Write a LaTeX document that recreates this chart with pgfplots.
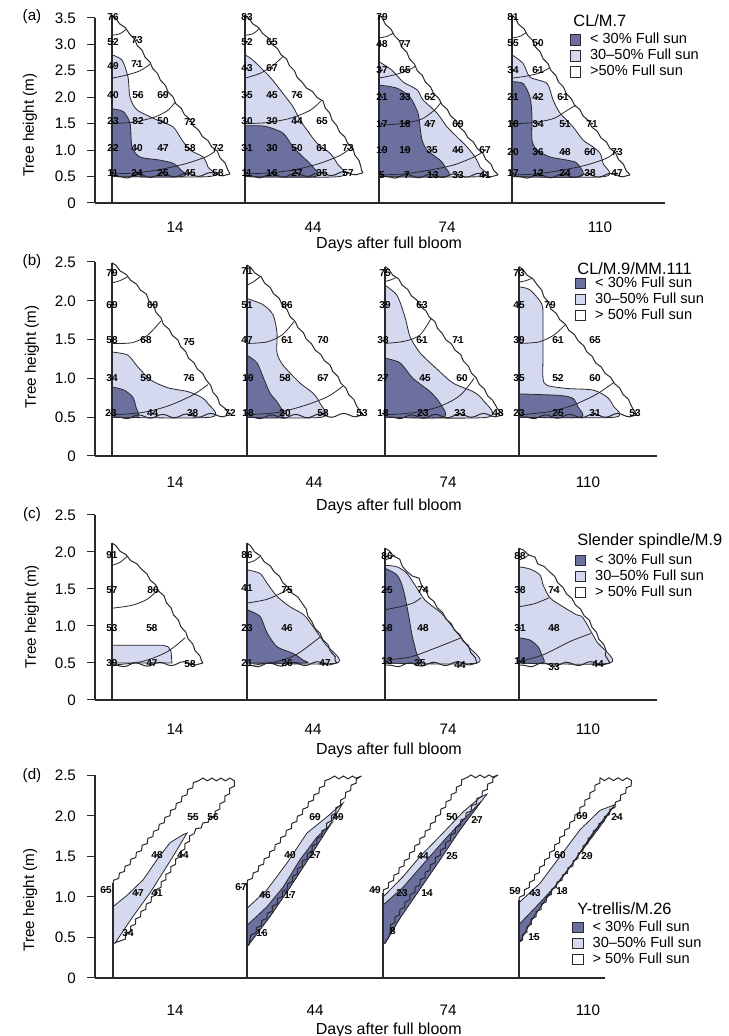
\documentclass[border=0pt]{standalone}
\usepackage{fontspec}
\setmainfont{Liberation Sans}
\usepackage{pgfplots}
\pgfplotsset{compat=1.18}
\usetikzlibrary{decorations.pathmorphing}
\definecolor{darkc}{RGB}{108,112,158}
\definecolor{lightc}{RGB}{213,217,239}
\definecolor{lc}{RGB}{40,40,45}
\newcommand\nf{\fontsize{5}{5.5}\selectfont\bfseries}
\newcommand\tf{\fontsize{7.6}{8.5}\selectfont}
\newcommand\ttl{\fontsize{8.2}{9}\selectfont}
\pgfplotsset{
  sh/.style={x filter/.expression={x+#1}},
  wt/.style={fill=white, draw=none},
  lt/.style={fill=lightc, draw=lc, line width=0.4pt, smooth, tension=0.45},
  dk/.style={fill=darkc, draw=lc, line width=0.4pt, smooth, tension=0.45},
  ltp/.style={fill=lightc, draw=lc, line width=0.4pt},
  dkp/.style={fill=darkc, draw=lc, line width=0.4pt},
  ct/.style={draw=lc, line width=0.4pt, smooth, tension=0.5},
  vl/.style={draw=lc, line width=0.55pt},
  hy/.style={draw=lc, line width=0.5pt, decorate, decoration={snake, amplitude=0.35pt, segment length=7pt}},
  bt/.style={draw=lc, line width=0.5pt, decorate, decoration={snake, amplitude=0.9pt, segment length=12pt}},
  zz/.style={draw=lc, line width=0.5pt, decorate, decoration={snake, amplitude=0.7pt, segment length=4.5pt}},
  nm/.style={only marks, mark=*, mark size=0.2pt, mark options={draw=none, fill=none}, nodes near coords, point meta=explicit symbolic, nodes near coords align={center}, every node near coord/.append style={font=\nf, inner sep=0pt, text=black}},
  panel/.style={anchor=south west, x=0.5pt, xmin=0, ymin=0, enlargelimits=false, clip=false,
    axis x line*=bottom, axis y line*=left, axis line style={draw=lc, line width=0.6pt},
    tick align=outside, major tick length=4pt,
    x tick style={draw=none}, y tick style={draw=lc, line width=0.5pt},
    tick label style={font=\tf}, /pgf/number format/assume math mode=true,
    yticklabel style={xshift=-2pt},
    xticklabels={14,44,74,110},
    xlabel={Days after full bloom}, ylabel={Tree height (m)},
    xlabel style={font=\fontsize{8}{9}\selectfont, anchor=center},
    ylabel style={font=\tf, anchor=center},
    legend cell align=left,
    legend style={draw=none, fill=none, anchor=north west, inner sep=0pt, column sep=4pt, font=\fontsize{7.3}{8}\selectfont, row sep=0pt, nodes={inner sep=0.6pt}},
    legend image code/.code={\draw[##1] (0pt,-2.6pt) rectangle (5.2pt,2.6pt);},
  },
}
\begin{document}
\begin{tikzpicture}
\useasboundingbox (0,0) rectangle (364pt,518pt);
% ================= (a) =================
\begin{axis}[panel, at={(47.5pt,416.5pt)}, y=26.45pt, xmax=570, ymax=3.5,
  xtick={80,218,352,505}, ytick={0,0.5,1,1.5,2,2.5,3,3.5},
  yticklabels={0,0.5,1.0,1.5,2.0,2.5,3.0,3.5},
  xticklabel style={yshift=-2pt},
  xlabel style={at={(axis description cs:0.516,0)}, yshift=-20.5pt},
  ylabel style={at={(axis description cs:-0.114,0.42)}},
  legend style={at={(0.832,0.926)}}]
\addlegendimage{fill=darkc, draw=lc, line width=0.4pt}\addlegendentry{< 30\% Full sun}
\addlegendimage{fill=lightc, draw=lc, line width=0.4pt}\addlegendentry{30--50\% Full sun}
\addlegendimage{fill=white, draw=lc, line width=0.4pt}\addlegendentry{>50\% Full sun}
% a14
\addplot[wt,sh=17] coordinates {(0,3.55)(14.7,3.27)(38,2.61)(61,1.95)(85,1.38)(101,1.04)(118,0.55)(0,0.5)} -- cycle;
\addplot[lt,sh=17] coordinates {(0,2.80)(10,2.70)(16,2.38)(18,2.0)(25,1.76)(45,1.57)(61,1.44)(70,1.19)(78,1.0)(91,0.87)(96,0.68)(98,0.5)(0,0.5)} -- cycle;
\addplot[dk,sh=17] coordinates {(0,1.78)(11,1.73)(18,1.51)(20,1.06)(28,0.87)(48,0.81)(61,0.75)(68,0.64)(70,0.5)(0,0.5)} -- cycle;
\addplot[ct,sh=17] coordinates {(0,3.17)(8,3.2)(14,3.28)};
\addplot[ct,sh=17] coordinates {(0,2.36)(15,2.42)(28,2.5)(38,2.62)};
\addplot[ct,sh=17] coordinates {(0,1.5)(22,1.53)(42,1.62)(55,1.74)(63,1.9)};
\addplot[ct,sh=17] coordinates {(0,0.55)(25,0.57)(50,0.64)(75,0.75)(95,0.88)(103,0.98)};
\addplot[vl,sh=17] coordinates {(0,0)(0,3.55)};
\addplot[hy,sh=17] coordinates {(0,3.55)(14.7,3.27)(38,2.61)(61,1.95)(85,1.38)(101,1.04)(118,0.55)};
\addplot[bt,sh=17] coordinates {(118,0.55)(0,0.5)};
\addplot[nm,sh=17] coordinates {(1,3.52)[76](1,3.05)[52](25,3.08)[73](1,2.58)[49](25,2.62)[71](1,2.04)[40](26,2.04)[56](51,2.04)[69](1,1.54)[23](26,1.54)[82](51,1.54)[50](78,1.54)[72](1,1.03)[22](25,1.03)[40](51,1.03)[47](78,1.03)[58](106,1.03)[72](1,0.57)[11](25,0.57)[24](51,0.57)[25](78,0.57)[45](106,0.57)[58]};
% a44
\addplot[wt,sh=150] coordinates {(0,3.55)(15,3.27)(38,2.77)(55,2.29)(75,1.95)(88,1.51)(105,1.06)(118,0.57)(0,0.5)} -- cycle;
\addplot[lt,sh=150] coordinates {(0,2.80)(8,2.70)(25,2.38)(38,2.07)(48,1.82)(55,1.57)(62,1.38)(72,1.13)(85,0.94)(92,0.75)(95,0.5)(0,0.5)} -- cycle;
\addplot[dk,sh=150] coordinates {(0,1.46)(20,1.45)(38,1.32)(48,1.06)(58,0.87)(68,0.68)(70,0.5)(0,0.5)} -- cycle;
\addplot[ct,sh=150] coordinates {(0,3.17)(8,3.2)(14,3.29)};
\addplot[ct,sh=150] coordinates {(0,2.36)(15,2.45)(28,2.6)(38,2.77)};
\addplot[ct,sh=150] coordinates {(0,1.5)(22,1.52)(45,1.6)(65,1.75)(76,1.93)};
\addplot[ct,sh=150] coordinates {(0,0.55)(25,0.57)(50,0.63)(75,0.75)(95,0.9)(106,1.04)};
\addplot[vl,sh=150] coordinates {(0,0)(0,3.55)};
\addplot[hy,sh=150] coordinates {(0,3.55)(15,3.27)(38,2.77)(55,2.29)(75,1.95)(88,1.51)(105,1.06)(118,0.57)};
\addplot[bt,sh=150] coordinates {(118,0.57)(0,0.5)};
\addplot[nm,sh=150] coordinates {(2,3.52)[83](2,3.05)[52](27,3.05)[65](2,2.55)[43](27,2.55)[67](2,2.04)[35](27,2.04)[45](52,2.04)[76](2,1.54)[30](27,1.54)[30](52,1.54)[44](77,1.54)[65](2,1.03)[31](27,1.03)[30](52,1.03)[50](77,1.03)[61](103,1.03)[73](2,0.57)[11](27,0.57)[16](52,0.57)[27](77,0.57)[35](103,0.57)[57]};
% a74
\addplot[wt,sh=284] coordinates {(0,3.55)(14.3,3.21)(36,2.58)(57.7,2.01)(81,1.44)(101,1.0)(119,0.53)(0,0.5)} -- cycle;
\addplot[lt,sh=284] coordinates {(0,2.67)(13,2.51)(24,2.29)(38,2.14)(44,1.95)(58,1.70)(68,1.44)(78,1.25)(88,1.06)(96,0.87)(101,0.68)(103,0.5)(0,0.5)} -- cycle;
\addplot[dk,sh=284] coordinates {(0,2.23)(18,2.17)(31,2.0)(39,1.70)(41,1.44)(43,1.19)(48,1.0)(61,0.81)(66,0.68)(67,0.5)(0,0.5)} -- cycle;
\addplot[ct,sh=284] coordinates {(0,3.12)(8,3.15)(14,3.21)};
\addplot[ct,sh=284] coordinates {(0,2.36)(15,2.42)(28,2.5)(36,2.58)};
\addplot[ct,sh=284] coordinates {(0,1.47)(22,1.5)(42,1.58)(55,1.75)(62,1.9)};
\addplot[ct,sh=284] coordinates {(0,0.53)(25,0.55)(50,0.62)(75,0.72)(95,0.87)(103,0.96)};
\addplot[vl,sh=284] coordinates {(0,0)(0,3.55)};
\addplot[hy,sh=284] coordinates {(0,3.55)(14.3,3.21)(36,2.58)(57.7,2.01)(81,1.44)(101,1.0)(119,0.53)};
\addplot[bt,sh=284] coordinates {(119,0.53)(0,0.5)};
\addplot[nm,sh=284] coordinates {(3,3.52)[79](3,3.0)[48](26,3.0)[77](3,2.51)[37](26,2.51)[65](3,2.0)[21](26,2.0)[33](51,2.0)[62](3,1.5)[17](26,1.5)[18](51,1.5)[47](79,1.5)[69](3,1.0)[19](26,1.0)[19](53,1.0)[35](79,1.0)[46](106,1.0)[67](3,0.53)[5](28,0.53)[7](54,0.53)[13](79,0.53)[33](106,0.53)[41]};
% a110
\addplot[wt,sh=417] coordinates {(0,3.55)(14.7,3.21)(34.7,2.64)(54.7,2.07)(78,1.51)(101,1.0)(118,0.53)(0,0.5)} -- cycle;
\addplot[lt,sh=417] coordinates {(0,2.80)(11,2.64)(18,2.38)(35,2.26)(41,1.95)(48,1.70)(61,1.44)(71,1.19)(81,1.06)(88,0.94)(91,0.75)(93,0.5)(0,0.5)} -- cycle;
\addplot[dk,sh=417] coordinates {(0,2.29)(11,2.26)(18,2.0)(20,1.63)(20,1.19)(25,1.0)(38,0.87)(55,0.81)(65,0.75)(68,0.5)(0,0.5)} -- cycle;
\addplot[ct,sh=417] coordinates {(0,3.12)(8,3.15)(14,3.22)};
\addplot[ct,sh=417] coordinates {(0,2.36)(15,2.4)(28,2.46)(38,2.56)};
\addplot[ct,sh=417] coordinates {(0,1.5)(22,1.52)(42,1.6)(55,1.75)(64,1.85)};
\addplot[ct,sh=417] coordinates {(0,0.53)(25,0.55)(50,0.62)(75,0.72)(95,0.85)(103,0.96)};
\addplot[vl,sh=417] coordinates {(0,0)(0,3.55)};
\addplot[hy,sh=417] coordinates {(0,3.55)(14.7,3.21)(34.7,2.64)(54.7,2.07)(78,1.51)(101,1.0)(118,0.53)};
\addplot[bt,sh=417] coordinates {(118,0.53)(0,0.5)};
\addplot[nm,sh=417] coordinates {(1,3.52)[81](1,3.02)[55](26,3.02)[50](1,2.51)[34](26,2.51)[61](1,2.0)[21](26,2.0)[42](51,2.0)[61](1,1.5)[18](26,1.5)[34](53,1.5)[51](80,1.5)[71](1,0.97)[20](26,0.97)[36](53,0.97)[48](78,0.97)[60](105,0.97)[73](1,0.56)[17](26,0.56)[12](53,0.56)[24](78,0.56)[38](105,0.56)[47]};
\node[anchor=west, inner sep=0pt, font=\ttl] at (axis cs:478,3.45) {CL/M.7};
\node[font=\tf] at (axis cs:-63,3.52) {(a)};
\end{axis}
% ================= (b) =================
\begin{axis}[panel, at={(47.5pt,290pt)}, y=38.8pt, xmax=562, ymax=2.5,
  xtick={80,219,353,493}, ytick={0,0.5,1,1.5,2,2.5},
  yticklabels={0,0.5,1.0,1.5,2.0,2.5},
  xticklabel style={yshift=-3pt},
  xlabel style={at={(axis description cs:0.523,0)}, yshift=-25pt},
  ylabel style={at={(axis description cs:-0.112,0.51)}},
  legend style={at={(0.853,0.933)}}]
\addlegendimage{fill=darkc, draw=lc, line width=0.4pt}\addlegendentry{< 30\% Full sun}
\addlegendimage{fill=lightc, draw=lc, line width=0.4pt}\addlegendentry{30--50\% Full sun}
\addlegendimage{fill=white, draw=lc, line width=0.4pt}\addlegendentry{> 50\% Full sun}
% b14
\addplot[wt,sh=17] coordinates {(0,2.49)(15.7,2.31)(32,2.10)(48.7,1.75)(62,1.54)(75.7,1.28)(92,1.02)(105,0.72)(118,0.53)(0,0.5)} -- cycle;
\addplot[lt,sh=17] coordinates {(0,1.34)(15.7,1.30)(25.7,1.15)(38.7,0.98)(55.7,0.88)(75.7,0.83)(89,0.76)(95.7,0.68)(99,0.5)(0,0.5)} -- cycle;
\addplot[dk,sh=17] coordinates {(0,0.89)(12,0.85)(20.7,0.76)(24,0.63)(25.7,0.5)(0,0.5)} -- cycle;
\addplot[ct,sh=17] coordinates {(0,2.23)(8,2.26)(15.7,2.31)};
\addplot[ct,sh=17] coordinates {(0,1.45)(20,1.46)(35,1.55)(49,1.74)};
\addplot[ct,sh=17] coordinates {(0,0.53)(30,0.56)(55,0.64)(80,0.78)(96,0.92)};
\addplot[vl,sh=17] coordinates {(0,0)(0,2.49)};
\addplot[hy,sh=17] coordinates {(0,2.49)(15.7,2.31)(32,2.10)(48.7,1.75)(62,1.54)(75.7,1.28)(92,1.02)(105,0.72)(118,0.53)};
\addplot[bt,sh=17] coordinates {(118,0.53)(0,0.5)};
\addplot[nm,sh=17] coordinates {(0,2.36)[79](0,1.95)[69](40.7,1.95)[69](0,1.49)[58](34,1.49)[68](77,1.47)[75](0,1.0)[34](34,1.0)[59](77,1.0)[76](-1,0.55)[23](40.7,0.55)[44](80.7,0.55)[38](118,0.55)[72]};
% b44
\addplot[wt,sh=152] coordinates {(0,2.46)(13,2.31)(30,2.05)(46,1.75)(63,1.45)(80,1.20)(96,0.90)(110,0.64)(116,0.53)(0,0.5)} -- cycle;
\addplot[lt,sh=152] coordinates {(0,2.03)(16,1.95)(26,1.82)(30,1.59)(30,1.33)(36,1.17)(53,0.94)(66,0.81)(73,0.68)(75,0.5)(0,0.5)} -- cycle;
\addplot[dk,sh=152] coordinates {(0,1.30)(10,1.20)(16,1.02)(23,0.81)(31,0.68)(36,0.5)(0,0.5)} -- cycle;
\addplot[ct,sh=152] coordinates {(0,2.2)(7,2.25)(13,2.31)};
\addplot[ct,sh=152] coordinates {(0,1.45)(20,1.47)(35,1.56)(47,1.73)};
\addplot[ct,sh=152] coordinates {(0,0.53)(30,0.56)(55,0.64)(80,0.76)(96,0.9)};
\addplot[vl,sh=152] coordinates {(0,0)(0,2.46)};
\addplot[hy,sh=152] coordinates {(0,2.46)(13,2.31)(30,2.05)(46,1.75)(63,1.45)(80,1.20)(96,0.90)(110,0.64)(116,0.53)};
\addplot[bt,sh=152] coordinates {(116,0.53)(0,0.5)};
\addplot[nm,sh=152] coordinates {(0,2.38)[71](0,1.95)[51](40,1.95)[86](0,1.49)[47](40,1.49)[61](76,1.49)[70](1,1.0)[19](38,1.0)[58](76,1.0)[67](1,0.55)[18](38,0.55)[20](76,0.55)[58](115,0.55)[53]};
% b74
\addplot[wt,sh=290] coordinates {(0,2.44)(12,2.29)(28,2.05)(45,1.79)(55,1.58)(72,1.33)(88,1.02)(105,0.72)(118,0.53)(0,0.5)} -- cycle;
\addplot[lt,sh=290] coordinates {(0,2.20)(12,2.07)(20,1.79)(25,1.54)(35,1.33)(52,1.12)(68,0.94)(88,0.83)(98,0.72)(103,0.5)(0,0.5)} -- cycle;
\addplot[dk,sh=290] coordinates {(0,1.26)(15,1.20)(28,1.0)(45,0.83)(55,0.68)(58,0.5)(0,0.5)} -- cycle;
\addplot[ct,sh=290] coordinates {(0,2.25)(6,2.27)(11,2.3)};
\addplot[ct,sh=290] coordinates {(0,1.45)(20,1.48)(35,1.56)(46,1.77)};
\addplot[ct,sh=290] coordinates {(0,0.53)(30,0.56)(55,0.64)(75,0.78)(89,1.0)};
\addplot[vl,sh=290] coordinates {(0,0)(0,2.44)};
\addplot[hy,sh=290] coordinates {(0,2.44)(12,2.29)(28,2.05)(45,1.79)(55,1.58)(72,1.33)(88,1.02)(105,0.72)(118,0.53)};
\addplot[bt,sh=290] coordinates {(118,0.53)(0,0.5)};
\addplot[nm,sh=290] coordinates {(0,2.36)[75](0,1.95)[39](37,1.95)[63](-2,1.49)[38](37,1.49)[61](73,1.49)[71](-2,1.0)[27](40,1.0)[45](77,1.0)[60](-2,0.55)[18](38,0.55)[23](75,0.55)[33](113,0.55)[48]};
% b110
\addplot[wt,sh=424] coordinates {(0,2.44)(14,2.27)(28,1.95)(41,1.75)(58,1.50)(74,1.24)(91,1.0)(108,0.72)(118,0.53)(0,0.5)} -- cycle;
\addplot[lt,sh=424] coordinates {(0,2.18)(11,2.14)(23,1.95)(24,1.71)(24,1.29)(24,1.0)(28,0.91)(48,0.87)(74,0.85)(88,0.76)(94,0.65)(96,0.5)(0,0.5)} -- cycle;
\addplot[dk,sh=424] coordinates {(0,0.80)(41,0.78)(54,0.74)(59,0.63)(61,0.5)(0,0.5)} -- cycle;
\addplot[ct,sh=424] coordinates {(0,2.24)(7,2.26)(13,2.29)};
\addplot[ct,sh=424] coordinates {(0,1.45)(20,1.47)(35,1.56)(46,1.69)};
\addplot[ct,sh=424] coordinates {(0,0.53)(30,0.57)(55,0.66)(78,0.8)(95,0.95)};
\addplot[vl,sh=424] coordinates {(0,0)(0,2.44)};
\addplot[hy,sh=424] coordinates {(0,2.44)(14,2.27)(28,1.95)(41,1.75)(58,1.50)(74,1.24)(91,1.0)(108,0.72)(118,0.53)};
\addplot[bt,sh=424] coordinates {(118,0.53)(0,0.5)};
\addplot[nm,sh=424] coordinates {(0,2.36)[73](0,1.95)[45](31,1.95)[79](0,1.49)[39](39,1.49)[61](76,1.49)[65](0,1.0)[35](39,1.0)[52](76,1.0)[60](0,0.55)[23](39,0.55)[25](76,0.55)[31](116,0.55)[53]};
\node[anchor=west, inner sep=0pt, font=\ttl] at (axis cs:482,2.42) {CL/M.9/MM.111};
\node[font=\tf] at (axis cs:-63,2.5) {(b)};
\end{axis}
% ================= (c) =================
\begin{axis}[panel, at={(47.5pt,168pt)}, y=37pt, xmax=562, ymax=2.5,
  xtick={80,218,353,493}, ytick={0,0.5,1,1.5,2,2.5},
  yticklabels={0,0.5,1.0,1.5,2.0,2.5},
  xticklabel style={yshift=-4.5pt},
  xlabel style={at={(axis description cs:0.523,0)}, yshift=-25pt},
  ylabel style={at={(axis description cs:-0.112,0.45)}},
  legend style={at={(0.853,0.80)}}]
\addlegendimage{fill=darkc, draw=lc, line width=0.4pt}\addlegendentry{< 30\% Full sun}
\addlegendimage{fill=lightc, draw=lc, line width=0.4pt}\addlegendentry{30--50\% Full sun}
\addlegendimage{fill=white, draw=lc, line width=0.4pt}\addlegendentry{> 50\% Full sun}
% c14
\addplot[wt,sh=17] coordinates {(0,2.12)(15,1.94)(28,1.80)(41,1.58)(51,1.40)(61,1.17)(71,0.95)(81,0.72)(91,0.50)(0,0.5)} -- cycle;
\addplot[ltp,sh=17] coordinates {(0,0.74)(51,0.74)(56,0.72)(59,0.66)(60,0.5)(0,0.5)} -- cycle;
\addplot[ct,sh=17] coordinates {(0,1.82)(8,1.86)(15,1.94)};
\addplot[ct,sh=17] coordinates {(0,1.24)(20,1.28)(35,1.36)(46,1.49)};
\addplot[ct,sh=17] coordinates {(0,0.47)(30,0.52)(55,0.65)(73,0.84)};
\addplot[vl,sh=17] coordinates {(0,0)(0,2.12)};
\addplot[hy,sh=17] coordinates {(0,2.12)(15,1.94)(28,1.80)(41,1.58)(51,1.40)(61,1.17)(71,0.95)(81,0.72)(91,0.50)};
\addplot[bt,sh=17] coordinates {(91,0.5)(0,0.47)};
\addplot[nm,sh=17] coordinates {(0,1.96)[91](0,1.49)[57](41,1.49)[86](0,0.97)[53](40,0.97)[58](0,0.5)[39](40,0.5)[47](78,0.48)[58]};
% c44
\addplot[wt,sh=152] coordinates {(0,2.12)(13,1.94)(26.3,1.76)(39.7,1.53)(53,1.35)(63,1.05)(78,0.76)(89.7,0.50)(0,0.5)} -- cycle;
\addplot[lt,sh=152] coordinates {(0,1.76)(13,1.71)(20,1.58)(30,1.40)(43,1.26)(56,1.16)(63,1.05)(78,0.76)(89.7,0.5)(0,0.5)} -- cycle;
\addplot[dk,sh=152] coordinates {(0,1.22)(13,1.13)(20,0.91)(30,0.72)(46,0.63)(56,0.54)(58,0.5)(0,0.5)} -- cycle;
\addplot[ct,sh=152] coordinates {(0,1.85)(7,1.88)(13,1.94)};
\addplot[ct,sh=152] coordinates {(0,1.31)(20,1.36)(35,1.45)(42,1.5)};
\addplot[ct,sh=152] coordinates {(0,0.46)(30,0.52)(50,0.62)(73,0.85)};
\addplot[vl,sh=152] coordinates {(0,0)(0,2.12)};
\addplot[hy,sh=152] coordinates {(0,2.12)(13,1.94)(26.3,1.76)(39.7,1.53)(53,1.35)(63,1.05)(78,0.76)(89.7,0.50)};
\addplot[bt,sh=152] coordinates {(89.7,0.5)(0,0.47)};
\addplot[nm,sh=152] coordinates {(0,1.96)[86](0,1.51)[41](40,1.49)[75](0,0.97)[23](40,0.97)[46](0,0.5)[21](40,0.5)[26](78,0.5)[47]};
% c74
\addplot[wt,sh=290] coordinates {(0,2.05)(12,1.92)(18,1.78)(30,1.69)(40,1.46)(52,1.26)(72,0.91)(82,0.74)(92,0.5)(0,0.5)} -- cycle;
\addplot[lt,sh=290] coordinates {(0,1.82)(12,1.80)(22,1.71)(32,1.51)(40,1.35)(52,1.22)(58,1.15)(72,0.91)(82,0.74)(92,0.5)(0,0.5)} -- cycle;
\addplot[dk,sh=290] coordinates {(0,1.78)(12,1.69)(18,1.51)(23,1.19)(27,0.88)(32,0.61)(35,0.5)(0,0.5)} -- cycle;
\addplot[ct,sh=290] coordinates {(0,1.89)(5,1.92)(10,1.96)};
\addplot[ct,sh=290] coordinates {(0,1.22)(15,1.26)(28,1.31)(36,1.38)};
\addplot[ct,sh=290] coordinates {(0,0.54)(25,0.58)(50,0.7)(76,0.84)};
\addplot[vl,sh=290] coordinates {(0,0)(0,2.05)};
\addplot[hy,sh=290] coordinates {(0,2.05)(12,1.92)(18,1.78)(30,1.69)(40,1.46)(52,1.26)(72,0.91)(82,0.74)(92,0.5)};
\addplot[bt,sh=290] coordinates {(92,0.5)(0,0.47)};
\addplot[nm,sh=290] coordinates {(2,1.94)[86](2,1.49)[25](38,1.49)[74](2,0.97)[18](38,0.97)[48](2,0.52)[13](35,0.5)[35](75,0.47)[44]};
% c110
\addplot[wt,sh=424] coordinates {(0,2.05)(11,1.96)(17.7,1.82)(27.7,1.73)(37.7,1.55)(51,1.33)(64,1.11)(77.7,0.79)(91,0.5)(0,0.5)} -- cycle;
\addplot[lt,sh=424] coordinates {(0,1.80)(11,1.77)(21,1.69)(24.3,1.55)(31,1.38)(44,1.26)(57.7,1.15)(64,1.11)(77.7,0.79)(91,0.5)(0,0.5)} -- cycle;
\addplot[dk,sh=424] coordinates {(0,0.84)(11,0.81)(19,0.72)(22.7,0.61)(24.3,0.5)(0,0.5)} -- cycle;
\addplot[ct,sh=424] coordinates {(0,1.89)(5,1.92)(10,1.96)};
\addplot[ct,sh=424] coordinates {(0,1.26)(15,1.3)(30,1.38)};
\addplot[ct,sh=424] coordinates {(0,0.52)(24,0.61)(51,0.79)(72,0.9)};
\addplot[vl,sh=424] coordinates {(0,0)(0,2.05)};
\addplot[hy,sh=424] coordinates {(0,2.05)(11,1.96)(17.7,1.82)(27.7,1.73)(37.7,1.55)(51,1.33)(64,1.11)(77.7,0.79)(91,0.5)};
\addplot[bt,sh=424] coordinates {(91,0.5)(0,0.47)};
\addplot[nm,sh=424] coordinates {(1,1.94)[88](1,1.49)[38](35,1.49)[74](1,0.97)[31](35,0.97)[48](1,0.52)[14](35,0.45)[33](79,0.48)[44]};
\node[anchor=west, inner sep=0pt, font=\ttl] at (axis cs:482,2.15) {Slender spindle/M.9};
\node[font=\tf] at (axis cs:-63,2.5) {(c)};
\end{axis}
% ================= (d) =================
\begin{axis}[panel, at={(47.5pt,29pt)}, y=40.5pt, xmax=510, ymax=2.5,
  xtick={80,220,353,493}, ytick={0,0.5,1,1.5,2,2.5},
  yticklabels={0,0.5,1.0,1.5,2.0,2.5},
  xticklabel style={yshift=-6pt},
  xlabel style={at={(axis description cs:0.576,0)}, yshift=-26pt},
  ylabel style={at={(axis description cs:-0.127,0.385)}},
  legend style={at={(0.935,0.29)}}]
\addlegendimage{fill=darkc, draw=lc, line width=0.4pt}\addlegendentry{< 30\% Full sun}
\addlegendimage{fill=lightc, draw=lc, line width=0.4pt}\addlegendentry{30--50\% Full sun}
\addlegendimage{fill=white, draw=lc, line width=0.4pt}\addlegendentry{> 50\% Full sun}
% d14
\addplot[wt,sh=18] coordinates {(0,0.43)(0,1.17)(84,2.44)(117,2.44)(94,1.99)(74,1.79)(60,1.50)(37,1.05)(20,0.76)(2,0.43)} -- cycle;
\addplot[ltp,sh=18] coordinates {(0,0.88)(14,1.02)(30,1.21)(44,1.46)(57,1.67)(70,1.77)(74,1.79)(60,1.50)(37,1.05)(20,0.76)(2,0.43)(0,0.43)} -- cycle;
\addplot[vl,sh=18] coordinates {(0,0)(0,1.17)};
\addplot[zz,sh=18] coordinates {(0,1.17)(84,2.44)(117,2.44)(94,1.99)(74,1.79)(60,1.50)(37,1.05)(20,0.76)(2,0.43)};
\addplot[nm,sh=18] coordinates {(-7,1.09)[65](25,1.05)[47](44,1.05)[41](15,0.56)[34](44,1.52)[48](70,1.52)[44](80,1.99)[55](100,1.99)[56]};
% d44
\addplot[wt,sh=152] coordinates {(0,0.40)(0,1.17)(80,2.44)(113,2.44)(96,2.16)(80,1.83)(63,1.5)(43,1.12)(23,0.76)(1,0.40)} -- cycle;
\addplot[ltp,sh=152] coordinates {(0,0.86)(20,1.09)(40,1.42)(60,1.79)(80,1.99)(96,2.16)(80,1.83)(63,1.5)(43,1.12)(23,0.76)(1,0.40)(0,0.40)} -- cycle;
\addplot[dkp,sh=152] coordinates {(0,0.65)(20,0.88)(36,1.12)(53,1.46)(70,1.74)(84,1.9)(80,1.83)(63,1.5)(43,1.12)(23,0.76)(1,0.40)(0,0.40)} -- cycle;
\addplot[vl,sh=152] coordinates {(0,0)(0,1.17)};
\addplot[zz,sh=152] coordinates {(0,1.17)(80,2.44)(113,2.44)(96,2.16)(80,1.83)(63,1.5)(43,1.12)(23,0.76)(1,0.40)};
\addplot[nm,sh=152] coordinates {(-6,1.12)[67](18,1.03)[46](43,1.03)[17](15,0.56)[16](43,1.52)[40](68,1.52)[27](68,1.99)[69](91,1.99)[49]};
% d74
\addplot[wt,sh=288] coordinates {(0,0.43)(0,1.05)(80,2.44)(114,2.44)(94,2.11)(77,1.83)(57,1.46)(37,1.10)(17,0.74)(2,0.43)} -- cycle;
\addplot[ltp,sh=288] coordinates {(0,1.0)(20,1.25)(37,1.5)(60,1.79)(80,2.05)(97,2.23)(104,2.27)(94,2.11)(77,1.83)(57,1.46)(37,1.10)(17,0.74)(2,0.43)(0,0.43)} -- cycle;
\addplot[dkp,sh=288] coordinates {(0,0.90)(20,1.12)(44,1.46)(64,1.74)(84,2.0)(98,2.18)(94,2.11)(77,1.83)(57,1.46)(37,1.10)(17,0.74)(2,0.43)(0,0.43)} -- cycle;
\addplot[vl,sh=288] coordinates {(0,0)(0,1.05)};
\addplot[zz,sh=288] coordinates {(0,1.05)(80,2.44)(114,2.44)(94,2.11)(77,1.83)(57,1.46)(37,1.10)(17,0.74)(2,0.43)};
\addplot[nm,sh=288] coordinates {(-8,1.09)[49](19,1.05)[23](44,1.05)[14](10,0.58)[8](40,1.50)[44](69,1.50)[25](69,1.99)[50](94,1.95)[27]};
% d110
\addplot[wt,sh=424] coordinates {(0,0.43)(0,0.96)(81,2.44)(114,2.44)(94,2.11)(74,1.79)(54,1.42)(34,1.10)(14,0.74)(0,0.43)} -- cycle;
\addplot[ltp,sh=424] coordinates {(0,0.93)(21,1.17)(41,1.50)(61,1.83)(81,2.07)(96,2.14)(94,2.11)(74,1.79)(54,1.42)(34,1.10)(14,0.74)(0,0.43)} -- cycle;
\addplot[dkp,sh=424] coordinates {(0,0.66)(21,0.93)(41,1.2)(61,1.54)(81,1.87)(91,2.05)(94,2.11)(74,1.79)(54,1.42)(34,1.10)(14,0.74)(0,0.43)} -- cycle;
\addplot[vl,sh=424] coordinates {(0,0)(0,0.96)};
\addplot[zz,sh=424] coordinates {(0,0.96)(81,2.44)(114,2.44)(94,2.11)(74,1.79)(54,1.42)(34,1.10)(14,0.74)(0,0.43)};
\addplot[nm,sh=424] coordinates {(-4,1.07)[59](16,1.05)[43](43,1.07)[18](15,0.51)[15](41,1.52)[60](68,1.50)[29](63,2.0)[69](98,1.99)[24]};
\node[anchor=west, inner sep=0pt, font=\ttl] at (axis cs:482,0.86) {Y-trellis/M.26};
\node[font=\tf] at (axis cs:-63,2.5) {(d)};
\end{axis}
\end{tikzpicture}
\end{document}
